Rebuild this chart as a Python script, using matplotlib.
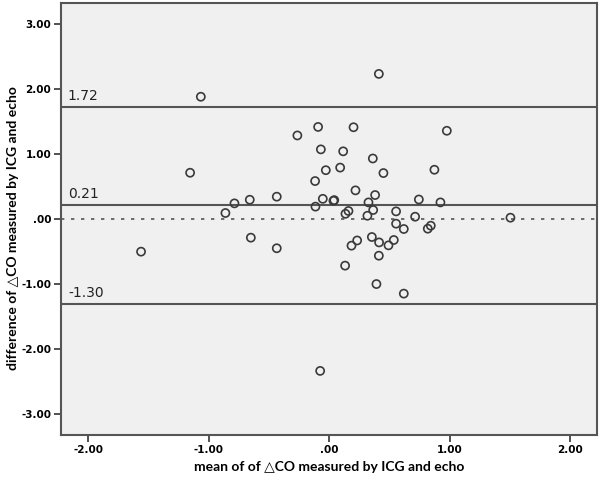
import matplotlib
matplotlib.use("Agg")
import matplotlib.pyplot as plt

mean_vals = [0.41, -0.094, 0.20, 0.974, -0.071, 0.114, 0.36, -0.03, 0.089, 0.448,
             0.871, -0.119, 0.216, 0.379, -0.055, 0.033, 0.040, -0.116, 0.324, 0.742,
             0.921, 0.158, 0.133, 0.363, 0.553, 0.315, 0.711, 1.502, 0.553, 0.617,
             0.841, 0.816, 0.23, 0.183, 0.352, 0.412, 0.534, 0.49, 0.41, 0.13,
             0.39, 0.617, -1.067, -0.266, -1.156, -0.437, -0.661, -0.788, -0.863, -0.652,
             -0.437, -1.563, -0.077]
diff_vals = [2.23, 1.415, 1.41, 1.356, 1.07, 1.04, 0.93, 0.75, 0.79, 0.706,
             0.757, 0.583, 0.44, 0.368, 0.31, 0.28, 0.29, 0.19, 0.255, 0.30,
             0.255, 0.123, 0.08, 0.138, 0.117, 0.05, 0.035, 0.02, -0.072, -0.154,
             -0.103, -0.149, -0.33, -0.41, -0.277, -0.36, -0.323, -0.405, -0.564, -0.717,
             -1.0, -1.147, 1.879, 1.284, 0.711, 0.343, 0.296, 0.24, 0.092, -0.287,
             -0.45, -0.502, -2.335]

mean_diff = 0.21
upper_loa = 1.72
lower_loa = -1.30

x_ticks = [-2.0, -1.0, 0.0, 1.0, 2.0]
x_tick_labels = ["-2.00", "-1.00", ".00", "1.00", "2.00"]
y_ticks = [-3.0, -2.0, -1.0, 0.0, 1.0, 2.0, 3.0]
y_tick_labels = ["-3.00", "-2.00", "-1.00", ".00", "1.00", "2.00", "3.00"]

fig = plt.figure(figsize=(6.0, 4.83), dpi=100)
ax = fig.add_axes([0.1017, 0.0994, 0.8933, 0.8944])
ax.set_facecolor("#f0f0f0")

ax.axhline(0.0, color="#555555", linestyle=(0, (2, 4)), linewidth=1.2, zorder=1)
for v in (upper_loa, mean_diff, lower_loa):
    ax.axhline(v, color="#555555", linewidth=1.5, zorder=1)

ax.scatter(mean_vals, diff_vals, s=34, facecolors="none", edgecolors="#3a3a3a",
           linewidths=1.2, zorder=3)

for v in (upper_loa, mean_diff, lower_loa):
    ax.text(-2.17, v + 0.06, f"{v:.2f}", fontsize=10, color="#222222",
            ha="left", va="bottom")

ax.set_xlim(-2.227, 2.22)
ax.set_ylim(-3.32, 3.32)
ax.set_xticks(x_ticks)
ax.set_xticklabels(x_tick_labels)
ax.set_yticks(y_ticks)
ax.set_yticklabels(y_tick_labels)
ax.tick_params(direction="out", length=5, width=1.2, color="#333333",
               labelsize=7.5, pad=2)
for lab in ax.get_xticklabels() + ax.get_yticklabels():
    lab.set_fontweight("bold")

for sp in ax.spines.values():
    sp.set_color("#555555")
    sp.set_linewidth(1.5)

label_font = ["Lato", "DejaVu Sans"]
ax.set_xlabel("mean of of \u25b3CO measured by ICG and echo", fontsize=10,
              fontweight="bold", family=label_font)
ax.set_ylabel("difference of \u25b3CO measured by ICG and echo", fontsize=10,
              fontweight="bold", family=label_font)
ax.xaxis.set_label_coords(0.5, -0.06)
ax.yaxis.set_label_coords(-0.078, 0.478)

fig.savefig("out.png", dpi=100)
